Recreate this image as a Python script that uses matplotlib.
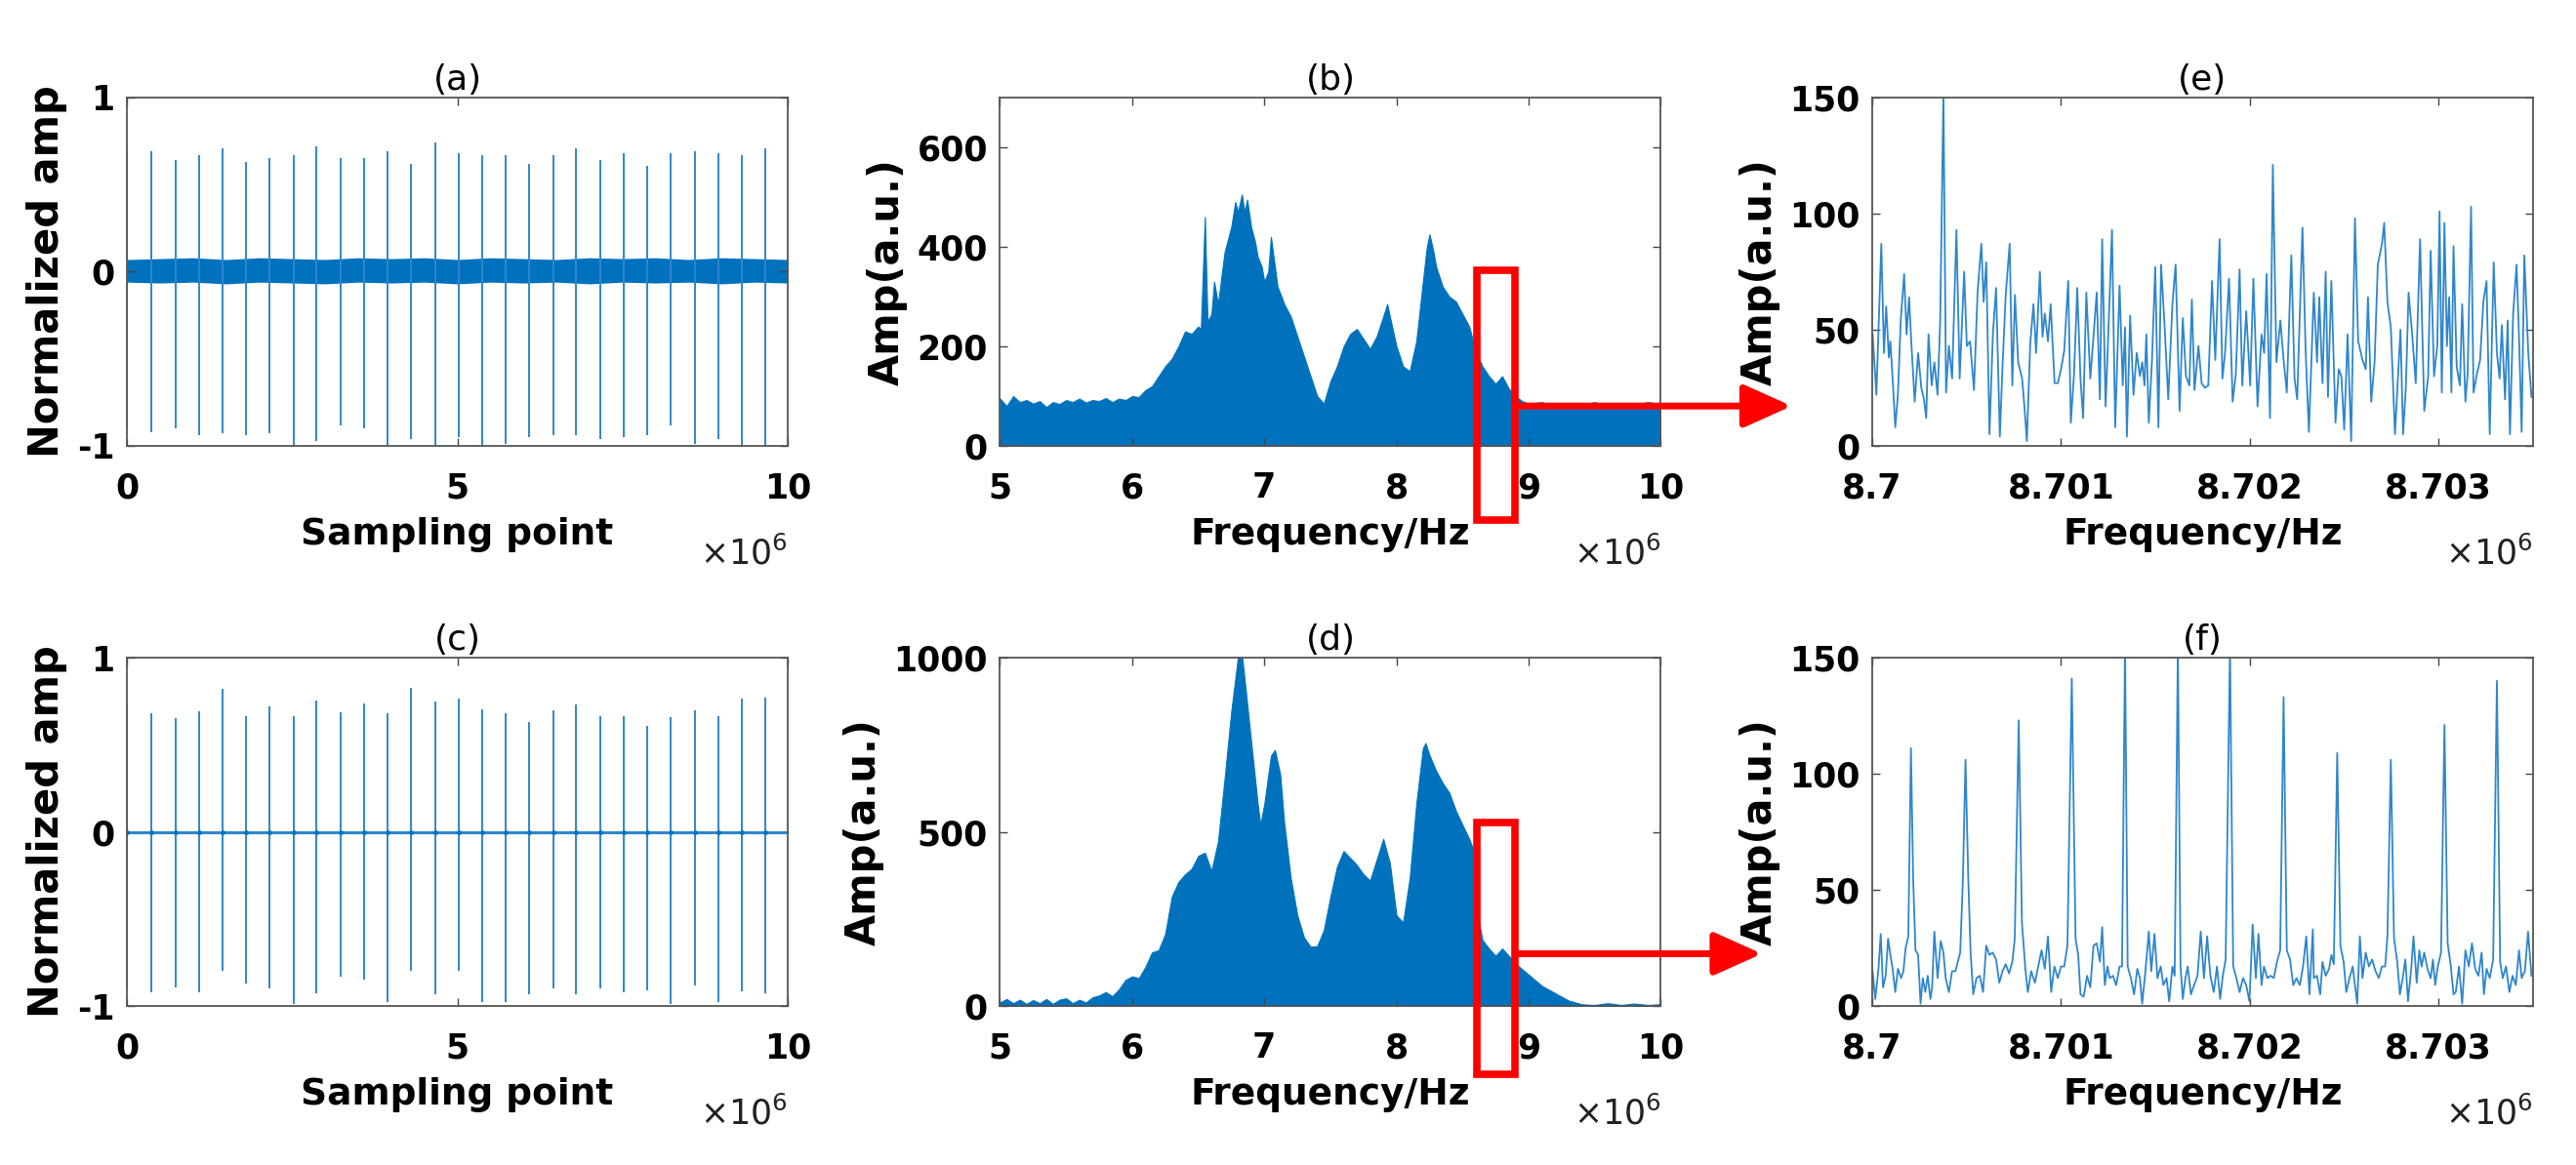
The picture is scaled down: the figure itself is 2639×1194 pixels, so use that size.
import matplotlib
matplotlib.use("Agg")
import matplotlib.pyplot as plt
import numpy as np
from matplotlib.patches import Rectangle

BLUE = "#0072BD"
LINE_BLUE = "#2f86cc"
RED = "#FF0000"

# ---- (a) / (c): pulse trains, positions in units of 1e6 samples -------------
spike_x = [0.0, 0.37, 0.73, 1.09, 1.45, 1.80, 2.16, 2.52, 2.87, 3.23, 3.59, 3.95, 4.30, 4.66,
           5.02, 5.37, 5.73, 6.09, 6.45, 6.80, 7.16, 7.52, 7.87, 8.23, 8.59, 8.95, 9.30, 9.66]
a_top = [0.71, 0.69, 0.64, 0.67, 0.71, 0.63, 0.65, 0.67, 0.72, 0.65, 0.65, 0.69, 0.62, 0.74,
         0.68, 0.67, 0.67, 0.62, 0.67, 0.71, 0.64, 0.68, 0.61, 0.68, 0.69, 0.68, 0.67, 0.71]
a_bot = [-0.90, -0.92, -0.90, -0.94, -0.93, -0.94, -0.93, -1.00, -0.97, -0.88, -0.90, -1.00, -0.96, -1.00,
         -0.95, -1.00, -0.99, -0.95, -0.94, -0.94, -0.96, -0.95, -0.94, -0.88, -0.99, -0.96, -1.00, -1.00]
band_x = [0.0, 0.5, 1.0, 1.5, 2.0, 2.5, 3.0, 3.5, 4.0, 4.5, 5.0, 5.5, 6.0, 6.5, 7.0, 7.5, 8.0, 8.5, 9.0, 9.5, 10.0]
band_hi = [0.07, 0.075, 0.08, 0.07, 0.08, 0.075, 0.07, 0.08, 0.075, 0.08, 0.07, 0.08, 0.075, 0.07,
           0.08, 0.075, 0.08, 0.07, 0.08, 0.075, 0.07]
band_lo = [-0.06, -0.065, -0.06, -0.07, -0.06, -0.065, -0.07, -0.06, -0.065, -0.06, -0.07, -0.06,
           -0.065, -0.06, -0.07, -0.06, -0.065, -0.06, -0.07, -0.06, -0.065]

c_top = [0.73, 0.68, 0.65, 0.69, 0.82, 0.665, 0.72, 0.665, 0.755, 0.685, 0.735, 0.68, 0.825, 0.75,
         0.765, 0.705, 0.68, 0.63, 0.70, 0.73, 0.665, 0.665, 0.61, 0.66, 0.70, 0.665, 0.765, 0.77]
c_bot = [-0.90, -0.92, -0.895, -0.92, -0.80, -0.87, -0.90, -0.99, -0.925, -0.83, -0.85, -0.98, -0.80, -0.93,
         -0.80, -0.98, -0.98, -0.93, -0.90, -0.93, -0.90, -0.92, -0.91, -0.99, -0.88, -0.975, -0.915, -0.925]
c_base_x = [0.0, 10.0]
c_base_y = [0.0, 0.0]

# ---- (b): noisy spectrum envelope (MHz, a.u.) --------------------------------
b_freq = [5.00, 5.05, 5.10, 5.15, 5.20, 5.25, 5.30, 5.35, 5.40, 5.45, 5.50, 5.55, 5.60, 5.65, 5.70,
          5.75, 5.80, 5.85, 5.90, 5.95, 6.00, 6.05, 6.10, 6.15, 6.20, 6.25, 6.30, 6.35, 6.40, 6.45,
          6.50, 6.52, 6.55, 6.57, 6.60, 6.62, 6.65, 6.68, 6.70, 6.73, 6.75, 6.78, 6.80, 6.83, 6.85,
          6.87, 6.90, 6.93, 6.95, 6.98, 7.00, 7.03, 7.05, 7.07, 7.10, 7.13, 7.15, 7.18, 7.20, 7.25,
          7.30, 7.35, 7.40, 7.45, 7.50, 7.55, 7.60, 7.65, 7.70, 7.75, 7.80, 7.85, 7.90, 7.93, 7.95,
          8.00, 8.05, 8.10, 8.15, 8.20, 8.23, 8.25, 8.28, 8.30, 8.35, 8.40, 8.45, 8.50, 8.55, 8.60,
          8.65, 8.70, 8.75, 8.80, 8.85, 8.90, 8.95, 9.00, 9.10, 9.20, 9.30, 9.40, 9.50, 9.60, 9.70,
          9.80, 9.90, 10.00]
b_amp = [95, 80, 100, 88, 92, 85, 90, 78, 88, 84, 92, 88, 95, 87, 92,
         90, 96, 88, 95, 92, 100, 98, 112, 120, 140, 160, 175, 200, 230, 225,
         240, 235, 460, 250, 265, 330, 285, 350, 390, 420, 440, 490, 470, 505, 470,
         495, 440, 410, 380, 360, 330, 350, 420, 380, 320, 300, 285, 270, 260, 220,
         180, 140, 100, 85, 130, 160, 200, 225, 235, 215, 195, 220, 260, 285, 260,
         200, 160, 150, 210, 330, 400, 425, 390, 360, 320, 300, 290, 265, 240, 190,
         160, 140, 125, 140, 115, 100, 90, 85, 88, 80, 86, 82, 88, 80, 86,
         82, 88, 84]

# ---- (d): smooth spectrum (MHz, a.u.) ------------------------------------------
d_freq = [5.00, 5.05, 5.10, 5.15, 5.20, 5.25, 5.30, 5.35, 5.40, 5.45, 5.50, 5.55, 5.60, 5.65, 5.70,
          5.75, 5.80, 5.85, 5.90, 5.95, 6.00, 6.05, 6.10, 6.15, 6.20, 6.25, 6.30, 6.35, 6.40, 6.45,
          6.50, 6.55, 6.60, 6.65, 6.70, 6.75, 6.80, 6.83, 6.85, 6.90, 6.95, 6.97, 7.00, 7.05, 7.08,
          7.12, 7.15, 7.20, 7.25, 7.30, 7.35, 7.40, 7.45, 7.50, 7.55, 7.60, 7.65, 7.70, 7.75, 7.80,
          7.85, 7.90, 7.95, 8.00, 8.05, 8.10, 8.15, 8.20, 8.22, 8.25, 8.30, 8.35, 8.40, 8.45, 8.50,
          8.55, 8.58, 8.62, 8.65, 8.70, 8.75, 8.80, 8.85, 8.90, 9.00, 9.10, 9.20, 9.30, 9.40, 9.50,
          9.60, 9.70, 9.80, 9.90, 10.00]
d_amp = [10, 20, 8, 18, 6, 17, 8, 20, 6, 18, 22, 8, 18, 10, 25,
         30, 40, 28, 48, 75, 85, 80, 112, 154, 160, 207, 314, 356, 378, 394,
         431, 440, 388, 473, 654, 846, 1000, 1010, 940, 760, 580, 520, 580, 718, 735,
         665, 527, 367, 260, 197, 170, 172, 218, 314, 400, 445, 425, 405, 378, 360,
         420, 480, 410, 260, 240, 367, 580, 740, 755, 720, 675, 640, 612, 560, 520,
         480, 450, 250, 190, 165, 144, 165, 144, 122, 90, 58, 37, 16, 5, 3,
         8, 3, 7, 3, 5]

# ---- (e): zoomed noisy spectrum, offset from 8.7 MHz in Hz ---------------------
e_offset_hz = [2, 22, 48, 62, 74, 88, 96, 108, 122, 136, 151, 169, 182, 195, 208, 225, 243, 260, 274,
               286, 298, 315, 329, 346, 360, 377, 391, 406, 423, 446, 463, 487, 501, 518, 539, 558,
               578, 590, 604, 621, 639, 656, 676, 690, 707, 728, 742, 756, 773, 794, 807, 819, 837,
               854, 868, 888, 902, 914, 931, 945, 966, 983, 1000, 1017, 1038, 1052, 1069, 1086,
               1103, 1117, 1134, 1155, 1172,
               1189, 1206, 1218, 1236, 1253, 1270, 1287, 1310, 1327, 1339, 1349, 1366, 1384, 1401,
               1418, 1430, 1442, 1452, 1465, 1482, 1499, 1516, 1530, 1547, 1568, 1590, 1607, 1628,
               1645, 1662, 1680, 1693, 1707, 1728, 1745, 1762, 1780, 1800, 1817, 1840, 1855, 1869,
               1890, 1909, 1926, 1946, 1960, 1981, 2002, 2019, 2041, 2062, 2076, 2089, 2107, 2122,
               2141, 2162, 2179, 2196, 2220, 2237, 2251, 2279, 2296, 2313,
               2339, 2356, 2368, 2385, 2402, 2414, 2432, 2454, 2471, 2485, 2500, 2518, 2537, 2557,
               2574, 2597, 2614, 2626, 2643, 2661, 2678, 2700, 2712, 2729, 2747, 2769, 2798, 2812,
               2827, 2841, 2858, 2879, 2902, 2924, 2945, 2958, 2976, 2993, 3005, 3017, 3031, 3044,
               3056, 3068, 3079, 3096, 3113, 3125, 3142, 3154, 3172, 3185, 3203, 3220, 3237, 3254,
               3271, 3292, 3309, 3323, 3335, 3352, 3366, 3378, 3395, 3413, 3426, 3440, 3454, 3475, 3492]
e_amp = [48, 22, 87, 40, 60, 38, 45, 29, 8, 22, 54, 74, 48, 64, 43, 19, 40, 25, 20,
         12, 48, 26, 36, 22, 54, 152, 23, 43, 29, 93, 29, 75, 43, 45, 24, 66,
         87, 62, 79, 5, 48, 68, 4, 34, 65, 87, 26, 65, 36, 29, 16, 2, 44,
         61, 40, 75, 47, 57, 45, 61, 27, 27, 33, 41, 71, 10, 31, 68,
         29, 12, 66, 29, 47,
         66, 20, 89, 17, 54, 93, 8, 69, 26, 51, 4, 56, 22, 40,
         30, 36, 26, 48, 10, 37, 77, 8, 78, 54, 20, 61, 78, 15,
         55, 30, 26, 63, 24, 43, 27, 25, 26, 71, 37, 89, 29, 40,
         72, 19, 31, 76, 26, 58, 26, 72, 17, 48, 40, 74, 12, 121,
         36, 54, 37, 23, 82, 29, 20, 94, 40, 6,
         66, 36, 64, 27, 75, 21, 71, 10, 33, 30, 7, 48, 2, 98,
         45, 37, 33, 64, 19, 36, 78, 87, 96, 62, 51, 5, 50, 5,
         26, 66, 50, 27, 89, 15, 30, 84, 30, 43, 101, 23, 96, 43,
         64, 23, 86, 34, 26, 61, 19, 31, 103, 23, 31, 37, 62, 71,
         5, 79, 40, 29, 52, 20, 54, 5, 57, 78, 47, 6, 82, 40, 21]

# ---- (f): zoomed comb spectrum, offset from 8.7 MHz in Hz ----------------------
f_offset_hz = [2, 16, 33, 45, 57, 71, 84, 96, 108, 122, 136, 153, 165, 177, 191, 205, 217, 229, 243,
               256, 268, 281, 294, 308, 317, 329, 346, 363, 377, 389, 406, 423, 441, 453, 466, 480,
               494, 509, 521, 535, 552, 570, 587, 604, 621, 638, 656, 673, 690, 707, 725, 742, 755,
               776, 793, 811, 824, 842, 862, 879, 897, 914, 931, 948, 965, 983, 1000, 1017, 1034,
               1057, 1077, 1091, 1103, 1120, 1138, 1155, 1172,
               1189, 1206, 1218, 1232, 1246, 1258, 1275, 1292, 1310, 1323, 1339, 1353, 1370, 1387,
               1404, 1418, 1430, 1447, 1465, 1478, 1495, 1511, 1528, 1542, 1559, 1573, 1590, 1602,
               1619, 1633, 1645, 1659, 1671, 1688, 1705, 1723, 1740, 1757, 1774, 1791, 1809, 1826,
               1843, 1857, 1872, 1895, 1912, 1929, 1946, 1964, 1981, 1998, 2015, 2032, 2046, 2062,
               2075, 2093, 2110, 2127, 2144, 2161, 2179, 2196, 2213, 2230, 2247, 2265, 2282, 2299,
               2316, 2334,
               2339, 2356, 2373, 2385, 2402, 2420, 2432, 2445, 2463, 2480, 2497, 2511, 2528, 2545,
               2557, 2569, 2583, 2597, 2614, 2631, 2648, 2666, 2683, 2700, 2717, 2729, 2747, 2764,
               2781, 2795, 2810, 2824, 2838, 2855, 2867, 2884, 2898, 2910, 2924, 2941, 2958, 2970,
               2982, 2996, 3013, 3031, 3048, 3065, 3079, 3091, 3108, 3125, 3142, 3160, 3177, 3194,
               3211, 3228, 3240, 3254, 3271, 3289, 3309, 3326, 3340, 3357, 3375, 3392, 3409, 3426,
               3440, 3457, 3474, 3492]
f_amp = [15, 3, 16, 31, 8, 13, 29, 22, 16, 6, 16, 12, 15, 25, 30, 111, 54, 24, 22,
         1, 12, 6, 13, 3, 8, 32, 12, 28, 23, 12, 6, 15, 15, 19, 23, 54,
         106, 54, 23, 5, 12, 13, 6, 26, 22, 23, 20, 10, 15, 18, 14, 19, 29,
         123, 36, 16, 6, 15, 10, 17, 24, 16, 30, 6, 17, 12, 17, 17, 26,
         141, 29, 22, 5, 4, 13, 8, 26,
         27, 19, 34, 9, 17, 12, 13, 9, 17, 17, 155, 17, 12, 5,
         16, 12, 1, 15, 32, 15, 31, 12, 17, 9, 12, 2, 17, 13,
         155, 17, 3, 12, 17, 5, 9, 13, 32, 12, 30, 13, 6, 17,
         3, 13, 20, 155, 17, 12, 6, 12, 9, 2, 35, 12, 31, 9,
         17, 12, 13, 12, 19, 24, 133, 24, 20, 9, 12, 9, 17, 30,
         5, 33,
         12, 13, 5, 19, 13, 16, 22, 18, 109, 26, 19, 6, 12, 17,
         9, 1, 30, 12, 23, 17, 20, 15, 12, 17, 17, 30, 106, 29,
         19, 5, 12, 20, 2, 16, 30, 10, 24, 17, 23, 16, 12, 20,
         9, 17, 23, 121, 27, 17, 5, 6, 17, 1, 24, 17, 27, 16,
         13, 23, 5, 16, 12, 20, 140, 19, 12, 17, 6, 13, 9, 24,
         12, 15, 32, 13]

# zoom window marked on (b)/(d), MHz
zoom_lo, zoom_hi = 8.61, 8.90

TICK_FS = 25
YLABEL_FS = 30
XLABEL_FS = 27
TITLE_FS = 26
EXP_FS = 25


def style_axes(ax, xticks, xlabels, yticks, ylabels, xlim, ylim, xlabel, ylabel, title):
    ax.set_xlim(*xlim)
    ax.set_ylim(*ylim)
    ax.set_xticks(xticks)
    ax.set_xticklabels(xlabels, fontsize=TICK_FS, fontweight="bold")
    ax.set_yticks(yticks)
    ax.set_yticklabels(ylabels, fontsize=TICK_FS, fontweight="bold")
    ax.tick_params(direction="in", top=True, right=True, length=6, width=1.0, color="#444444")
    ax.tick_params(axis="x", pad=19)
    ax.tick_params(axis="y", pad=9)
    for sp in ax.spines.values():
        sp.set_color("#555555")
        sp.set_linewidth(1.3)
    ax.set_xlabel(xlabel, fontsize=XLABEL_FS, fontweight="bold", labelpad=9)
    ax.set_ylabel(ylabel, fontsize=YLABEL_FS, fontweight="bold", labelpad=7)
    ax.set_title(title, fontsize=TITLE_FS, pad=6)
    ax.text(1.0, -0.31, r"$\times10^{6}$", transform=ax.transAxes, ha="right", va="center",
            fontsize=EXP_FS, color="#222222")


fig = plt.figure(figsize=(26.39, 11.94), dpi=100)
col_left = [0.0493, 0.3882, 0.7268]
col_w = 0.2565
row_bottom = [0.6173, 0.1365]
row_h = 0.299

ax_a = fig.add_axes([col_left[0], row_bottom[0], col_w, row_h])
ax_b = fig.add_axes([col_left[1], row_bottom[0], col_w, row_h])
ax_e = fig.add_axes([col_left[2], row_bottom[0], col_w, row_h])
ax_c = fig.add_axes([col_left[0], row_bottom[1], col_w, row_h])
ax_d = fig.add_axes([col_left[1], row_bottom[1], col_w, row_h])
ax_f = fig.add_axes([col_left[2], row_bottom[1], col_w, row_h])

# (a)
ax_a.fill_between(band_x, band_lo, band_hi, color=BLUE, lw=0)
ax_a.vlines(spike_x, a_bot, a_top, color=LINE_BLUE, lw=1.4)
style_axes(ax_a, [0, 5, 10], ["0", "5", "10"], [-1, 0, 1], ["-1", "0", "1"], (0, 10), (-1, 1),
           "Sampling point", "Normalized amp", "(a)")

# (c)
ax_c.vlines(spike_x, c_bot, c_top, color=LINE_BLUE, lw=1.4)
ax_c.plot(c_base_x, c_base_y, color=LINE_BLUE, lw=2.2)
ax_c.plot(spike_x, [0.0] * len(spike_x), "o", color=BLUE, ms=3.5, mew=0)
style_axes(ax_c, [0, 5, 10], ["0", "5", "10"], [-1, 0, 1], ["-1", "0", "1"], (0, 10), (-1, 1),
           "Sampling point", "Normalized amp", "(c)")

mhz_ticks = [5, 6, 7, 8, 9, 10]
mhz_labels = ["5", "6", "7", "8", "9", "10"]

# (b)
ax_b.fill_between(b_freq, 0, b_amp, color=BLUE, lw=0.8, edgecolor=BLUE)
style_axes(ax_b, mhz_ticks, mhz_labels, [0, 200, 400, 600], ["0", "200", "400", "600"], (5, 10),
           (0, 700), "Frequency/Hz", "Amp(a.u.)", "(b)")

# (d)
ax_d.fill_between(d_freq, 0, d_amp, color=BLUE, lw=0.8, edgecolor=BLUE)
style_axes(ax_d, mhz_ticks, mhz_labels, [0, 500, 1000], ["0", "500", "1000"], (5, 10), (0, 1000),
           "Frequency/Hz", "Amp(a.u.)", "(d)")

zoom_ticks = [8.7, 8.701, 8.702, 8.703]
zoom_labels = ["8.7", "8.701", "8.702", "8.703"]
e_freq = 8.7 + np.array(e_offset_hz) / 1e6
f_freq = 8.7 + np.array(f_offset_hz) / 1e6

# (e)
ax_e.plot(e_freq, e_amp, color=LINE_BLUE, lw=1.3)
style_axes(ax_e, zoom_ticks, zoom_labels, [0, 50, 100, 150], ["0", "50", "100", "150"],
           (8.7, 8.7035), (0, 150), "Frequency/Hz", "Amp(a.u.)", "(e)")

# (f)
ax_f.plot(f_freq, f_amp, color=LINE_BLUE, lw=1.3)
style_axes(ax_f, zoom_ticks, zoom_labels, [0, 50, 100, 150], ["0", "50", "100", "150"],
           (8.7, 8.7035), (0, 150), "Frequency/Hz", "Amp(a.u.)", "(f)")

# red zoom boxes and arrows
arrow_style = "-|>,head_length=1.0,head_width=0.45"
for ax_src, ax_dst, y_lo, y_hi, y_arrow, ymax, x_end in [
    (ax_b, ax_e, -150, 353, 80, 700, -0.122),
    (ax_d, ax_f, -195, 527, 150, 1000, -0.167),
]:
    ax_src.add_patch(Rectangle((zoom_lo, y_lo), zoom_hi - zoom_lo, y_hi - y_lo, fill=False,
                               ec=RED, lw=5.5, clip_on=False, zorder=5))
    ax_src.annotate("", xy=(x_end, y_arrow / ymax), xycoords=ax_dst.transAxes,
                    xytext=(zoom_hi, y_arrow), textcoords="data",
                    arrowprops=dict(arrowstyle=arrow_style, color=RED, lw=5, shrinkA=0, shrinkB=0,
                                    mutation_scale=30),
                    annotation_clip=False, zorder=6)

fig.savefig("out.png", dpi=100)
